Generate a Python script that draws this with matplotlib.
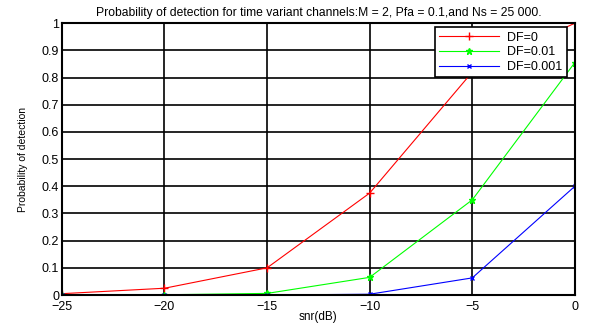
import matplotlib.pyplot as plt

plt.rcParams['font.family'] = ['Liberation Sans', 'DejaVu Sans']

# snr en dB
snr = [-25, -20, -15, -10, -5, 0]

# probabilidad de deteccion para cada DF
pd_df0 = [0.005, 0.025, 0.10, 0.375, 0.82, 1.0]
pd_df001 = [0.0, 0.001, 0.006, 0.065, 0.35, 0.855]
pd_df0001 = [0.0, 0.0, 0.0, 0.003, 0.063, 0.40]

fig = plt.figure(figsize=(6.07, 3.26), dpi=100)
ax = fig.add_axes([0.102, 0.095, 0.845, 0.834])

ax.plot(snr, pd_df0, color='red', marker='+', markersize=6, lw=0.8, label='DF=0')
ax.plot(snr, pd_df001, color='#00ff00', marker='*', markersize=5, lw=0.8, label='DF=0.01')
ax.plot(snr, pd_df0001, color='blue', marker='x', markersize=3, lw=0.8, label='DF=0.001')

ax.set_xlim(-25, 0)
ax.set_ylim(0, 1)
ax.set_xticks(snr)
ax.set_yticks([i / 10 for i in range(11)])
ax.set_yticklabels(['0', '0.1', '0.2', '0.3', '0.4', '0.5', '0.6', '0.7', '0.8', '0.9', '1'])
ax.grid(True, color='black', linestyle='-', linewidth=1.2)
ax.set_axisbelow(True)
for s in ax.spines.values():
    s.set_linewidth(1.5)
ax.tick_params(labelsize=9, length=0)
ax.tick_params(axis='x', pad=4.5)
ax.tick_params(axis='y', pad=2)

ax.set_xlabel('snr(dB)', fontsize=8.5)
ax.xaxis.set_label_coords(0.5, -0.06)
ax.set_ylabel('Probability of detection', fontsize=7.5, labelpad=10)
ax.set_title('Probability of detection for time variant channels:M = 2, Pfa = 0.1,and Ns = 25 000.',
             fontsize=8.7, pad=5)

leg = ax.legend(loc='upper right', bbox_to_anchor=(0.984, 0.985), borderaxespad=0,
                fontsize=9, fancybox=False, framealpha=1, edgecolor='black',
                borderpad=0.35, labelspacing=0.22, handlelength=4.8, handletextpad=0.6)
leg.get_frame().set_linewidth(1.2)

fig.savefig('out.png', dpi=100)
